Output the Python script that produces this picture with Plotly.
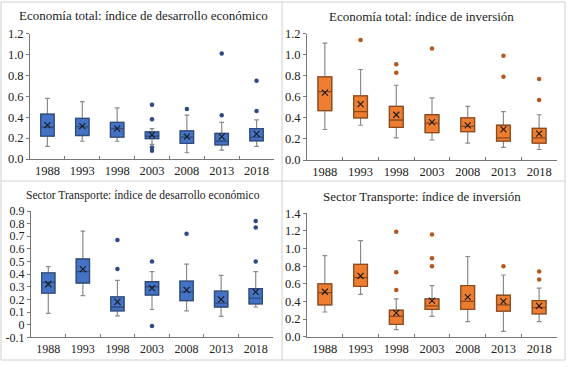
import plotly.graph_objects as go

years = ["1988", "1993", "1998", "2003", "2008", "2013", "2018"]

# Panel 1: Economía total – índice de desarrollo económico
p1_low = [0.12, 0.17, 0.17, 0.14, 0.06, 0.085, 0.12]
p1_q1 = [0.22, 0.225, 0.21, 0.195, 0.15, 0.135, 0.175]
p1_med = [0.305, 0.31, 0.29, 0.22, 0.21, 0.17, 0.21]
p1_q3 = [0.43, 0.39, 0.35, 0.26, 0.27, 0.245, 0.29]
p1_high = [0.58, 0.55, 0.49, 0.29, 0.42, 0.35, 0.375]
p1_mean = [0.325, 0.315, 0.29, 0.23, 0.215, 0.215, 0.24]
p1_out = [[], [], [], [0.52, 0.38, 0.11, 0.08], [0.48], [1.01, 0.42], [0.75, 0.46]]

# Panel 2: Economía total – índice de inversión
p2_low = [0.29, 0.33, 0.21, 0.19, 0.16, 0.12, 0.10]
p2_q1 = [0.47, 0.40, 0.31, 0.26, 0.27, 0.18, 0.16]
p2_med = [0.65, 0.46, 0.38, 0.35, 0.32, 0.21, 0.21]
p2_q3 = [0.79, 0.61, 0.51, 0.43, 0.40, 0.33, 0.30]
p2_high = [1.11, 0.86, 0.71, 0.59, 0.51, 0.46, 0.43]
p2_mean = [0.64, 0.53, 0.43, 0.36, 0.33, 0.29, 0.25]
p2_out = [[], [1.14], [0.91, 0.83], [1.06], [], [0.99, 0.79], [0.77, 0.57]]

# Panel 3: Sector Transporte – índice de desarrollo económico
p3_low = [0.09, 0.23, 0.07, 0.12, 0.11, 0.065, 0.14]
p3_q1 = [0.25, 0.33, 0.11, 0.235, 0.19, 0.14, 0.165]
p3_med = [0.335, 0.42, 0.14, 0.30, 0.26, 0.17, 0.21]
p3_q3 = [0.41, 0.52, 0.22, 0.34, 0.345, 0.265, 0.285]
p3_high = [0.46, 0.74, 0.35, 0.42, 0.48, 0.39, 0.42]
p3_mean = [0.32, 0.44, 0.18, 0.29, 0.275, 0.20, 0.26]
p3_out = [[], [], [0.67, 0.44], [0.50, -0.01], [0.72], [], [0.82, 0.77, 0.50]]

# Panel 4: Sector Transporte – índice de inversión
p4_low = [0.28, 0.48, 0.08, 0.23, 0.17, 0.06, 0.17]
p4_q1 = [0.36, 0.57, 0.14, 0.31, 0.31, 0.29, 0.26]
p4_med = [0.50, 0.67, 0.23, 0.35, 0.40, 0.36, 0.33]
p4_q3 = [0.60, 0.82, 0.30, 0.43, 0.58, 0.47, 0.41]
p4_high = [0.92, 1.09, 0.43, 0.58, 0.91, 0.70, 0.55]
p4_mean = [0.51, 0.69, 0.27, 0.41, 0.45, 0.40, 0.35]
p4_out = [[], [], [1.19, 0.73, 0.53], [1.16, 0.89, 0.80], [], [0.80], [0.74, 0.65]]

titles = [
    "Economía total: índice de desarrollo económico",
    "Economía total: índice de inversión",
    "Sector Transporte: índice de desarrollo económico",
    "Sector Transporte: índice de inversión",
]

p3_tickvals = [-0.1, 0, 0.1, 0.2, 0.3, 0.4, 0.5, 0.6, 0.7, 0.8, 0.9]
p3_ticktext = ["-0.1", "0", "0.1", "0.2", "0.3", "0.4", "0.5", "0.6", "0.7", "0.8", "0.9"]

BLUE = "#4472C4"
BLUE_EDGE = "#2F4B7C"
BLUE_DOT = "#2E4A86"
ORANGE = "#ED7D31"
ORANGE_EDGE = "#8E4A1C"
ORANGE_DOT = "#B5561C"
WHISK = "#8A8A8A"
FONT = "Liberation Serif"

panels = [
    (p1_low, p1_q1, p1_med, p1_q3, p1_high, p1_mean, p1_out, BLUE, BLUE_EDGE, BLUE_DOT),
    (p2_low, p2_q1, p2_med, p2_q3, p2_high, p2_mean, p2_out, ORANGE, ORANGE_EDGE, ORANGE_DOT),
    (p3_low, p3_q1, p3_med, p3_q3, p3_high, p3_mean, p3_out, BLUE, BLUE_EDGE, BLUE_DOT),
    (p4_low, p4_q1, p4_med, p4_q3, p4_high, p4_mean, p4_out, ORANGE, ORANGE_EDGE, ORANGE_DOT),
]

W, H = 569, 367
def px(x):
    return x / W
def py(y):
    return 1 - y / H

x_domains = [(px(30), px(274)), (px(307), px(557)), (px(31), px(273)), (px(307), px(557))]
y_domains = [(py(159), py(33.7)), (py(160), py(33.7)), (py(337.3), py(211)), (py(336.7), py(213.3))]
y_ranges = [(0, 1.2), (0, 1.2), (-0.1, 0.9), (0, 1.4)]
title_pos = [(143, 16), (421, 16.5), (143, 195), (422, 196)]
title_size = [13, 13, 11.6, 13]
tick_size = [12.5, 12.5, 12, 12.5]

fig = go.Figure()
for i, (low, q1, med, q3, high, mean, outs, fill, edge, dot) in enumerate(panels):
    xa = "x" if i == 0 else f"x{i+1}"
    ya = "y" if i == 0 else f"y{i+1}"
    # whiskers (gray)
    fig.add_trace(go.Box(
        x=years, q1=q1, median=med, q3=q3, lowerfence=low, upperfence=high,
        boxpoints=False, fillcolor=fill, line=dict(color=WHISK, width=1.2),
        whiskerwidth=0.35, xaxis=xa, yaxis=ya, showlegend=False, hoverinfo="skip",
    ))
    # box body with dark edge
    fig.add_trace(go.Box(
        x=years, q1=q1, median=med, q3=q3, lowerfence=q1, upperfence=q3,
        boxpoints=False, fillcolor=fill, line=dict(color=edge, width=1.3),
        whiskerwidth=0, xaxis=xa, yaxis=ya, showlegend=False,
    ))
    # means
    fig.add_trace(go.Scatter(
        x=years, y=mean, mode="markers", xaxis=xa, yaxis=ya, showlegend=False,
        marker=dict(symbol="x-thin", size=6, line=dict(width=1.1, color="#1a1a1a")),
    ))
    # outliers
    ox, oy = [], []
    for yr, vals in zip(years, outs):
        for v in vals:
            ox.append(yr)
            oy.append(v)
    fig.add_trace(go.Scatter(
        x=ox, y=oy, mode="markers", xaxis=xa, yaxis=ya, showlegend=False,
        marker=dict(symbol="circle", size=4.5, color=dot),
    ))

layout = dict(
    width=W, height=H, margin=dict(l=0, r=0, t=0, b=0),
    paper_bgcolor="white", plot_bgcolor="white",
    boxmode="overlay", boxgap=0.45,
    font=dict(family=FONT, size=13, color="#222"),
)
for i in range(4):
    xk = "xaxis" if i == 0 else f"xaxis{i+1}"
    yk = "yaxis" if i == 0 else f"yaxis{i+1}"
    ya = "y" if i == 0 else f"y{i+1}"
    xa = "x" if i == 0 else f"x{i+1}"
    layout[xk] = dict(
        domain=list(x_domains[i]), anchor=ya, type="category",
        showline=True, linecolor="#777", linewidth=1, showgrid=False,
        ticks="inside", tickson="boundaries", ticklen=3, tickcolor="#777",
        tickangle=0, automargin=False,
        tickfont=dict(family=FONT, size=tick_size[i], color="#222"), zeroline=False,
    )
    yd = dict(
        domain=list(y_domains[i]), anchor=xa, range=list(y_ranges[i]),
        showline=True, linecolor="#777", linewidth=1, showgrid=False,
        ticks="outside", ticklen=3, tickcolor="#777", zeroline=False,
        automargin=False,
        tickfont=dict(family=FONT, size=tick_size[i], color="#222"),
    )
    if i == 2:
        yd.update(tickvals=p3_tickvals, ticktext=p3_ticktext)
    else:
        yd.update(dtick=0.2, tickformat=".1f")
    layout[yk] = yd
fig.update_layout(**layout)

for i, t in enumerate(titles):
    fig.add_annotation(
        text=t, x=px(title_pos[i][0]), y=py(title_pos[i][1]), xref="paper", yref="paper",
        showarrow=False, xanchor="center", yanchor="middle",
        font=dict(family=FONT, size=title_size[i], color="#222"),
    )

# panel frames
frame = "#D0D0D0"
fig.add_shape(type="rect", xref="paper", yref="paper", x0=px(1), x1=px(565), y0=py(360), y1=py(2),
              line=dict(color=frame, width=1))
fig.add_shape(type="line", xref="paper", yref="paper", x0=px(282), x1=px(282), y0=py(360), y1=py(2),
              line=dict(color=frame, width=1))
fig.add_shape(type="line", xref="paper", yref="paper", x0=px(1), x1=px(565), y0=py(181), y1=py(181),
              line=dict(color=frame, width=1))

fig.write_html("out.html", config={"displayModeBar": False},
               post_script="document.body.style.margin='0';document.body.style.overflow='hidden';")
